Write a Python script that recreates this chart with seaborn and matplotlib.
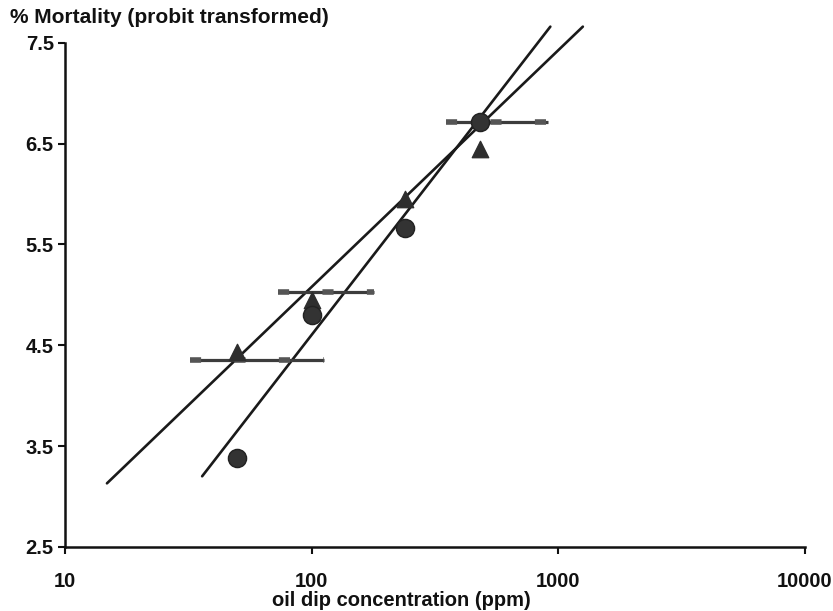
import matplotlib
matplotlib.use("Agg")
import matplotlib.pyplot as plt
import seaborn as sns
import pandas as pd

# data
conc = [50, 100, 240, 480]
tri_y = [4.43, 4.95, 5.95, 6.45]
circ_y = [3.38, 4.80, 5.66, 6.71]

# horizontal confidence bars: centre y, low x, high x
bar_y = [4.35, 5.03, 6.71]
bar_lo = [32, 73, 350]
bar_hi = [112, 180, 910]

# fitted regression lines (end points)
fit_a_x = [14.8, 1260]
fit_a_y = [3.13, 7.66]
fit_b_x = [36, 930]
fit_b_y = [3.20, 7.66]

x_ticks = [10, 100, 1000, 10000]
x_tick_labels = ["10", "100", "1000", "10000"]
y_ticks = [2.5, 3.5, 4.5, 5.5, 6.5, 7.5]
y_tick_labels = ["2.5", "3.5", "4.5", "5.5", "6.5", "7.5"]

sns.set_theme(style="ticks")
plt.rcParams['font.family'] = ['Liberation Sans', 'DejaVu Sans']

fig = plt.figure(figsize=(8.33, 6.11), dpi=100)
ax = fig.add_axes([0.078, 0.105, 0.888, 0.825])

df_t = pd.DataFrame({"x": conc, "y": tri_y})
df_c = pd.DataFrame({"x": conc, "y": circ_y})

# fit lines
sns.lineplot(x=fit_a_x, y=fit_a_y, ax=ax, color="#1a1a1a", lw=1.9, clip_on=False)
sns.lineplot(x=fit_b_x, y=fit_b_y, ax=ax, color="#1a1a1a", lw=1.9, clip_on=False)

# horizontal bars
for yv, lo, hi in zip(bar_y, bar_lo, bar_hi):
    ax.plot([lo, hi], [yv, yv], color="#3c3c3c", lw=2.3, solid_capstyle="butt", zorder=3)
    ax.plot([lo, hi], [yv, yv], color="#555555", lw=4.0, ls=(0, (2, 6)), zorder=3)

sns.scatterplot(data=df_t, x="x", y="y", ax=ax, marker="^", s=140,
                color="#2e2e2e", edgecolor="#2e2e2e", zorder=4)
sns.scatterplot(data=df_c, x="x", y="y", ax=ax, marker="o", s=170,
                color="#333333", edgecolor="#222222", zorder=4)

ax.set_xscale("log")
ax.set_xlim(10, 10000)
ax.set_ylim(2.5, 7.5)
ax.set_xticks(x_ticks)
ax.set_xticklabels(x_tick_labels)
ax.set_yticks(y_ticks)
ax.set_yticklabels(y_tick_labels)
ax.minorticks_off()

for s in ["top", "right"]:
    ax.spines[s].set_visible(False)
for s in ["left", "bottom"]:
    ax.spines[s].set_color("#111111")
    ax.spines[s].set_linewidth(1.8)

ax.tick_params(axis="both", direction="out", length=5, width=1.5, color="#111111",
               labelsize=14.5, labelcolor="#111111")
ax.tick_params(axis="x", pad=13)
ax.tick_params(axis="y", pad=3)
for lab in ax.get_xticklabels() + ax.get_yticklabels():
    lab.set_fontweight("bold")

ax.set_xlabel("")
ax.set_ylabel("")
fig.text(0.482, 0.018, "oil dip concentration (ppm)", fontsize=14.5, fontweight="bold",
         color="#111111", ha="center", va="center")
fig.text(0.012, 0.972, "% Mortality (probit transformed)", fontsize=15,
         fontweight="bold", color="#111111", ha="left", va="center")

fig.savefig("out.png", dpi=100)
